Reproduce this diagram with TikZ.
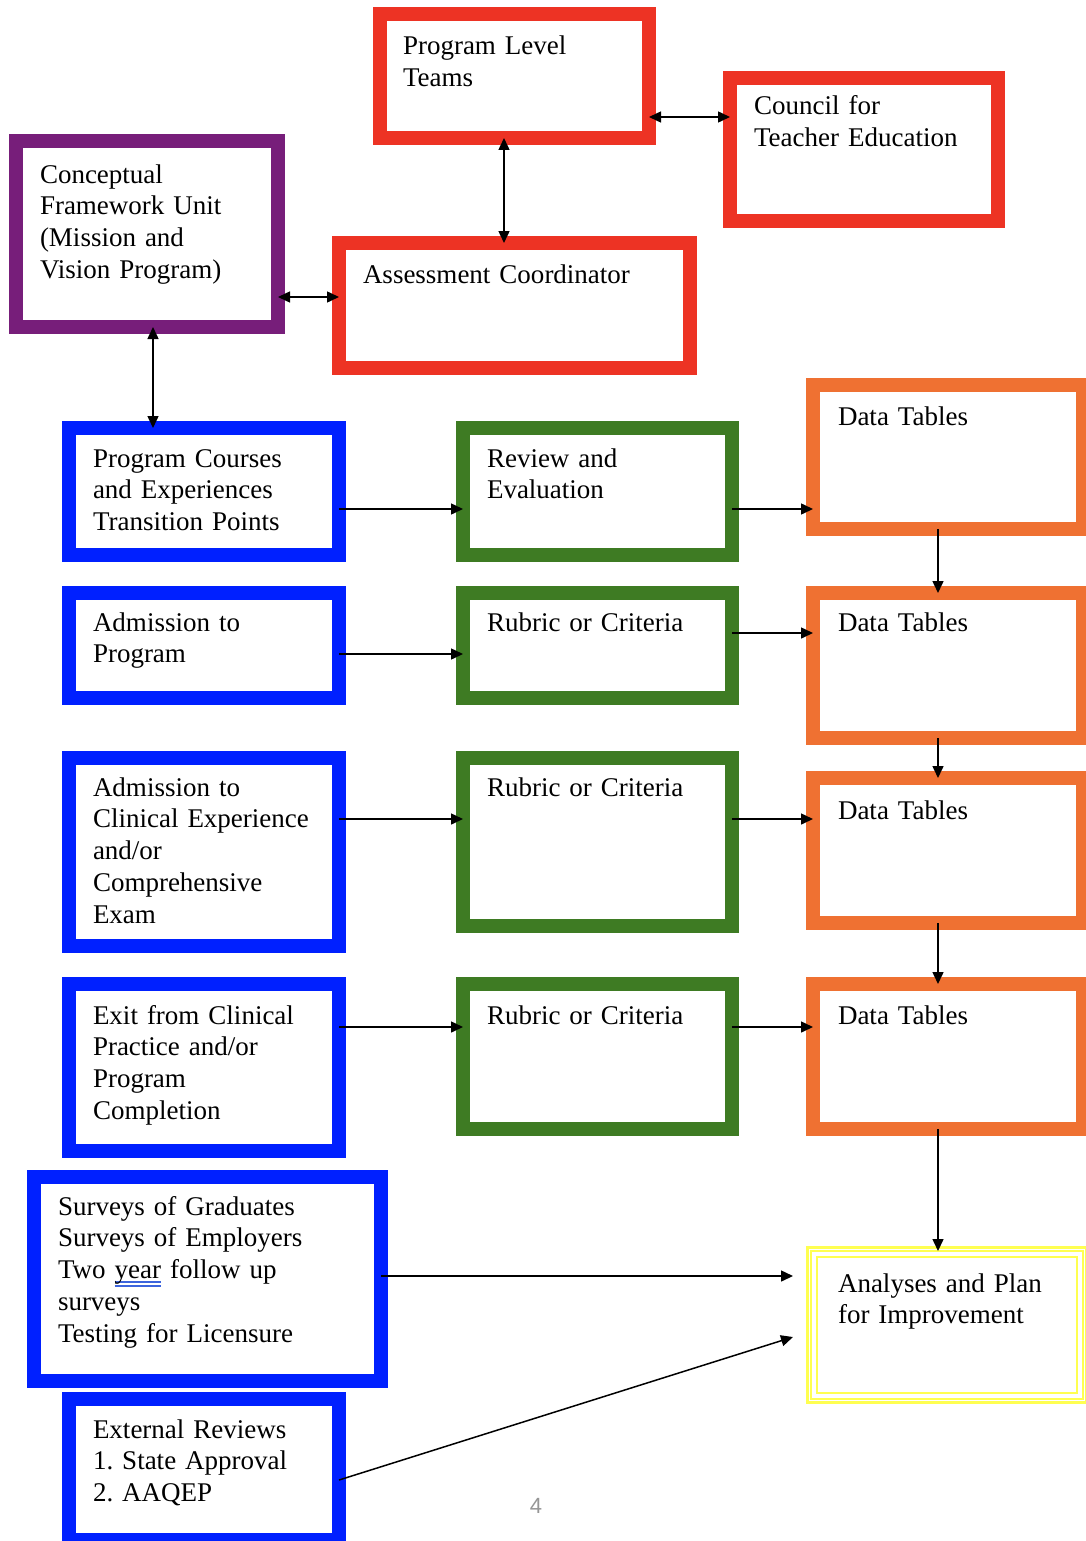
\documentclass[tikz,border=0pt]{standalone}
\usepackage{fontspec}
\setmainfont{Liberation Serif}
\newfontfamily\pagenumfont{Liberation Sans}
\usetikzlibrary{arrows.meta}
\definecolor{cred}{RGB}{237,51,36}
\definecolor{cpurple}{RGB}{119,30,122}
\definecolor{cblue}{RGB}{0,32,255}
\definecolor{cgreen}{RGB}{62,123,35}
\definecolor{corange}{RGB}{239,113,50}
\definecolor{cyellow}{RGB}{255,255,80}
\definecolor{spell}{RGB}{60,100,220}
\definecolor{pagegray}{RGB}{150,150,150}
\newcommand\spellmark[1]{\setbox0=\hbox{#1}\rlap{\color{spell}\rule[-4.2pt]{\wd0}{1.4pt}}\rlap{\color{spell}\rule[-8.2pt]{\wd0}{1.4pt}}\box0\relax}
\frenchspacing
\tikzset{
  boxline/.style={draw=#1, line width=14pt, rectangle, inner sep=0pt, outer sep=0pt},
  txt/.style={anchor=base west, text width=320pt, align=left, inner sep=0pt, outer sep=0pt,
    font=\frenchspacing\fontsize{27pt}{31.8pt}\selectfont},
  arr/.style={-{Triangle[length=12pt,width=11pt]}, line width=1.5pt},
  darr/.style={{Triangle[length=12pt,width=11pt]}-{Triangle[length=12pt,width=11pt]}, line width=1.5pt}
}
\begin{document}
\begin{tikzpicture}[x=1pt,y=-1pt]
\useasboundingbox (0,0) rectangle (1086,1541);
\fill[white] (0,0) rectangle (1086,1541);

% boxes
\node[boxline=cred, minimum width=269pt, minimum height=124pt] (plt) at (514.5,76) {};
\node[boxline=cred, minimum width=268pt, minimum height=143pt] (cte) at (864,149.5) {};
\node[boxline=cpurple, minimum width=262pt, minimum height=186pt] (cfu) at (147,234) {};
\node[boxline=cred, minimum width=351pt, minimum height=125pt] (ac) at (514.5,305.5) {};

\node[boxline=cblue, minimum width=270pt, minimum height=127pt] (pce) at (204,491.5) {};
\node[boxline=cgreen, minimum width=269pt, minimum height=127pt] (rev) at (597.5,491.5) {};
\node[boxline=corange, minimum width=270pt, minimum height=144pt] (dt1) at (948,457) {};

\node[boxline=cblue, minimum width=270pt, minimum height=105pt] (adm) at (204,645.5) {};
\node[boxline=cgreen, minimum width=269pt, minimum height=105pt] (rub1) at (597.5,645.5) {};
\node[boxline=corange, minimum width=270pt, minimum height=145pt] (dt2) at (948,665.5) {};

\node[boxline=cblue, minimum width=270pt, minimum height=188pt] (acl) at (204,852) {};
\node[boxline=cgreen, minimum width=269pt, minimum height=168pt] (rub2) at (597.5,842) {};
\node[boxline=corange, minimum width=270pt, minimum height=145pt] (dt3) at (948,850.5) {};

\node[boxline=cblue, minimum width=270pt, minimum height=167pt] (exit) at (204,1067.5) {};
\node[boxline=cgreen, minimum width=269pt, minimum height=145pt] (rub3) at (597.5,1056.5) {};
\node[boxline=corange, minimum width=270pt, minimum height=145pt] (dt4) at (948,1056.5) {};

\node[boxline=cblue, line width=13.5pt, minimum width=347pt, minimum height=204pt] (sur) at (207.5,1279) {};
\node[boxline=cblue, minimum width=270pt, minimum height=141pt] (ext) at (204,1469.5) {};

% yellow analyses box (triple thin line)
\node[draw=cyellow, line width=2pt, rectangle, inner sep=0pt, outer sep=0pt,
      minimum width=272pt, minimum height=148pt] (ana) at (947,1325) {};
\draw[cyellow, line width=3pt] ([shift={(-3.8,-3.8)}]ana.north west) rectangle ([shift={(3.8,3.8)}]ana.south east);
\draw[cyellow, line width=2.5pt] ([shift={(6,6)}]ana.north west) rectangle ([shift={(-6,-6)}]ana.south east);

% texts
\node[txt] (plt-t) at (403,55) {Program Level\\Teams};
\node[txt] (cte-t) at (754,115) {Council for\\Teacher Education};
\node[txt] (cfu-t) at (40,183) {Conceptual\\Framework Unit\\(Mission and\\Vision Program)};
\node[txt] (ac-t) at (363,283) {Assessment Coordinator};
\node[txt] (pce-t) at (93,467) {Program Courses\\and Experiences\\Transition Points};
\node[txt] (rev-t) at (487,467) {Review and\\Evaluation};
\node[txt] (dt1-t) at (838,425) {Data Tables};
\node[txt] (adm-t) at (93,631) {Admission to\\Program};
\node[txt] (rub1-t) at (487,631) {Rubric or Criteria};
\node[txt] (dt2-t) at (838,631) {Data Tables};
\node[txt] (acl-t) at (93,796) {Admission to\\Clinical Experience\\and/or\\Comprehensive\\Exam};
\node[txt] (rub2-t) at (487,796) {Rubric or Criteria};
\node[txt] (dt3-t) at (838,819) {Data Tables};
\node[txt] (exit-t) at (93,1024) {Exit from Clinical\\Practice and/or\\Program\\Completion};
\node[txt] (rub3-t) at (487,1024) {Rubric or Criteria};
\node[txt] (dt4-t) at (838,1024) {Data Tables};
\node[txt] (sur-t) at (58,1215) {Surveys of Graduates\\Surveys of Employers\\Two \spellmark{year} follow up\\surveys\\Testing for Licensure};
\node[txt] (ana-t) at (838,1292) {Analyses and Plan\\for Improvement};
\node[txt] (ext-t) at (93,1438) {External Reviews\\1. State Approval\\2. AAQEP};
\node[text=pagegray, font=\pagenumfont\fontsize{22pt}{26pt}\selectfont, inner sep=0pt] (pnum) at (536,1506) {4};

% free ends
\coordinate (t1) at (793,1276);
\coordinate (t2) at (793,1337);

% connectors
\draw[darr] (plt.east |- 0,117) -- (cte.west |- 0,117);
\draw[darr] (plt.south -| 504,0) -- (ac.north -| 504,0);
\draw[darr] (cfu.east |- 0,297) -- (ac.west |- 0,297);
\draw[darr] (cfu.south -| 153,0) -- (pce.north -| 153,0);
\draw[arr] (pce.east |- 0,509) -- (rev.west |- 0,509);
\draw[arr] (rev.east |- 0,509) -- (dt1.west |- 0,509);
\draw[arr] (dt1.south -| 938,0) -- (dt2.north -| 938,0);
\draw[arr] (adm.east |- 0,654) -- (rub1.west |- 0,654);
\draw[arr] (rub1.east |- 0,633) -- (dt2.west |- 0,633);
\draw[arr] (dt2.south -| 938,0) -- (dt3.north -| 938,0);
\draw[arr] (acl.east |- 0,819) -- (rub2.west |- 0,819);
\draw[arr] (rub2.east |- 0,819) -- (dt3.west |- 0,819);
\draw[arr] (dt3.south -| 938,0) -- (dt4.north -| 938,0);
\draw[arr] (exit.east |- 0,1027) -- (rub3.west |- 0,1027);
\draw[arr] (rub3.east |- 0,1027) -- (dt4.west |- 0,1027);
\draw[arr] (dt4.south -| 938,0) -- (ana.north -| 938,0);
\draw[arr] (sur.east |- 0,1276) -- (t1);
\draw[arr] (ext.east |- 0,1480) -- (t2);
\end{tikzpicture}
\end{document}
